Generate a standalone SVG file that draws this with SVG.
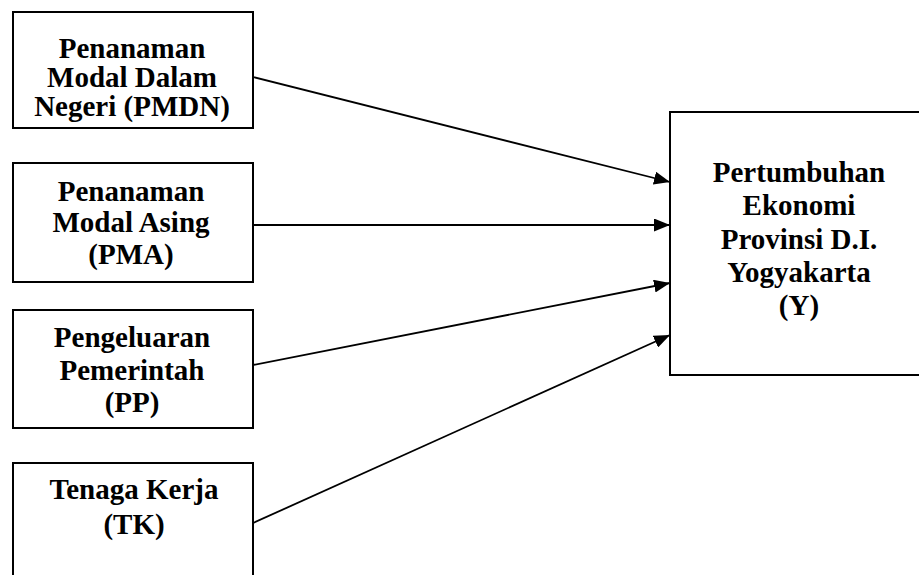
<svg xmlns="http://www.w3.org/2000/svg" width="919" height="575" viewBox="0 0 919 575">
<style>
.box{fill:#fff;stroke:#000;stroke-width:2}
.t{font-family:"Liberation Serif","Times New Roman",serif;font-weight:bold;font-size:29px;text-anchor:middle;fill:#000}
.c{stroke:#000;stroke-width:1.8;fill:none}
</style>
<defs>
<marker id="ah" viewBox="0 0 16 13" refX="16" refY="6.5" markerWidth="16" markerHeight="13" markerUnits="userSpaceOnUse" orient="auto">
<path d="M0,0 L16,6.5 L0,13 Z" fill="#000"/>
</marker>
</defs>
<rect width="919" height="575" fill="#fff"/>
<g id="pmdn">
<rect class="box" x="13" y="12" width="240" height="116"/>
<text class="t" x="132" y="58">Penanaman</text>
<text class="t" x="132" y="87">Modal Dalam</text>
<text class="t" x="132" y="116">Negeri (PMDN)</text>
</g>
<g id="pma">
<rect class="box" x="13" y="163" width="240" height="119"/>
<text class="t" x="131" y="201">Penanaman</text>
<text class="t" x="131" y="232">Modal Asing</text>
<text class="t" x="131" y="264">(PMA)</text>
</g>
<g id="pp">
<rect class="box" x="13" y="310" width="240" height="118"/>
<text class="t" x="132" y="347">Pengeluaran</text>
<text class="t" x="132" y="380">Pemerintah</text>
<text class="t" x="132" y="412">(PP)</text>
</g>
<g id="tk">
<rect class="box" x="13" y="463" width="240" height="130"/>
<text class="t" x="134" y="499">Tenaga Kerja</text>
<text class="t" x="134" y="534">(TK)</text>
</g>
<g id="y">
<rect class="box" x="670" y="112" width="270" height="263"/>
<text class="t" x="799" y="182">Pertumbuhan</text>
<text class="t" x="799" y="215">Ekonomi</text>
<text class="t" x="799" y="249">Provinsi D.I.</text>
<text class="t" x="799" y="282">Yogyakarta</text>
<text class="t" x="799" y="315">(Y)</text>
</g>
<g id="connectors">
<line class="c" x1="253" y1="77" x2="670" y2="182" marker-end="url(#ah)"/>
<line class="c" x1="253" y1="225" x2="670" y2="225" marker-end="url(#ah)"/>
<line class="c" x1="253" y1="365" x2="670" y2="283" marker-end="url(#ah)"/>
<line class="c" x1="253" y1="523" x2="670" y2="335" marker-end="url(#ah)"/>
</g>
</svg>
